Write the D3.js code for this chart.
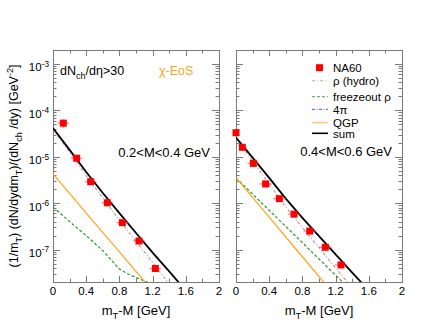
<!DOCTYPE html>
<html>
<head>
<meta charset="utf-8">
<script src="https://cdn.jsdelivr.net/npm/d3@7"></script>
<style>
body { margin: 0; background: #fff; }
text { font-family: "Liberation Sans", Arial, sans-serif; fill: #000; }
</style>
</head>
<body>
<svg id="chart" width="430" height="332"></svg>
<script>
// ---- data: 0.2 < M < 0.4 GeV ----
const na60X_low = [0.124, 0.285, 0.454, 0.654, 0.835, 1.036, 1.233];
const na60Y_low = [5.3e-5, 9.3e-6, 2.9e-6, 1.02e-6, 3.8e-7, 1.53e-7, 3.9e-8];
const na60Ey_low = [1.1e-5, 1.0e-6, 3.0e-7, 1.0e-7, 4.0e-8, 1.6e-8, 4.0e-9];
const na60Ex_low = [0.07, 0.07, 0.07, 0.07, 0.07, 0.07, 0.07];

const sumX_low = [0, 0.2, 0.4, 0.6, 0.8, 1.0, 1.2, 1.4, 1.6];
const sumY_low = [4.17e-5, 1.41e-5, 4.7e-6, 1.66e-6, 6.1e-7, 2.28e-7, 8.6e-8, 3.4e-8, 1.3e-8];
const hydroX_low = [0, 0.2, 0.4, 0.6, 0.8, 1.0, 1.2, 1.4];
const hydroY_low = [3.9e-5, 1.25e-5, 3.9e-6, 1.3e-6, 4.3e-7, 1.5e-7, 5.3e-8, 1.8e-8];
const freezeX_low = [0, 0.2, 0.4, 0.6, 0.8, 0.9, 1.0, 1.1, 1.2];
const freezeY_low = [8.3e-7, 4.0e-7, 2.0e-7, 9.5e-8, 3.8e-8, 3.0e-8, 2.5e-8, 2.1e-8, 1.8e-8];
const qgpX_low = [0, 0.4, 0.8, 1.2];
const qgpY_low = [4.3e-6, 6.1e-7, 8.9e-8, 1.28e-8];

// ---- data: 0.4 < M < 0.6 GeV ----
const na60X_high = [0.0, 0.076, 0.208, 0.357, 0.522, 0.699, 0.888, 1.076, 1.265];
const na60Y_high = [3.3e-5, 1.6e-5, 7.2e-6, 2.6e-6, 1.25e-6, 5.8e-7, 2.5e-7, 1.12e-7, 4.65e-8];
const na60Ey_high = [6.0e-6, 2.5e-6, 8.0e-7, 2.6e-7, 1.2e-7, 5.5e-8, 2.4e-8, 1.1e-8, 4.5e-9];
const na60Ex_high = [0.03, 0.04, 0.07, 0.075, 0.075, 0.075, 0.075, 0.075, 0.075];

const sumX_high = [0, 0.2, 0.4, 0.6, 0.8, 1.0, 1.2, 1.4, 1.6];
const sumY_high = [2.6e-5, 9.6e-6, 3.5e-6, 1.25e-6, 4.8e-7, 1.94e-7, 7.9e-8, 3.2e-8, 1.3e-8];
const hydroX_high = [0, 0.2, 0.4, 0.6, 0.8, 1.0, 1.2, 1.4];
const hydroY_high = [2.5e-5, 8.1e-6, 2.6e-6, 8.3e-7, 3.0e-7, 1.1e-7, 4.0e-8, 1.5e-8];
const freezeX_high = [0, 0.4, 0.8, 1.2, 1.4];
const freezeY_high = [3.5e-6, 7.0e-7, 1.41e-7, 2.8e-8, 1.24e-8];
const qgpX_high = [0, 0.4, 0.8, 1.2];
const qgpY_high = [3.5e-6, 5.0e-7, 7.0e-8, 9.8e-9];

// ---- axes ----
const xTicks = [0, 0.4, 0.8, 1.2, 1.6, 2];
const xTickLabels = ["0", "0.4", "0.8", "1.2", "1.6", "2"];
const yDecades = [1e-7, 1e-6, 1e-5, 1e-4, 1e-3];
const yExponents = ["-7", "-6", "-5", "-4", "-3"];

const legendLabels = ["NA60", "\u03c1 (hydro)", "freezeout \u03c1", "4\u03c0", "QGP", "sum"];

const svg = d3.select("#chart");
svg.append("rect").attr("width", 430).attr("height", 332).attr("fill", "#fff");

const plotTop = 50, plotBottom = 282;
const frameColor = "#7a7a7a";

const styles = {
    hydro: { color: "#c99a9a", dash: "3,2,1,2", width: 1.2 },
    freeze: { color: "#2a9a2a", dash: "3,2", width: 1.2 },
    fourpi: { color: "#3333cc", dash: "3,1.5,1,1.5", width: 1.2 },
    qgp: { color: "#ffa31a", dash: null, width: 1.2 },
    sum: { color: "#000", dash: null, width: 1.8 }
};

// text with sub/superscripts; parts = [[string, "n"|"sub"|"sup"], ...]
function richText(sel, parts, size) {
    let shift = 0;
    parts.forEach(p => {
        let target = p[1] === "sub" ? size * 0.3 : p[1] === "sup" ? -size * 0.4 : 0;
        let t = sel.append("tspan").text(p[0]).attr("dy", target - shift);
        if (p[1] !== "n") t.attr("font-size", size * 0.72);
        shift = target;
    });
}

function drawPanel(left, right, data, idx) {
    const x = d3.scaleLinear().domain([0, 2]).range([left, right]);
    const y = d3.scaleLog().domain([2e-8, 2e-3]).range([plotBottom, plotTop]);
    const g = svg.append("g");

    const clipId = "clip" + idx;
    svg.append("clipPath").attr("id", clipId)
        .append("rect").attr("x", left).attr("y", plotTop)
        .attr("width", right - left).attr("height", plotBottom - plotTop);

    // ticks (inward)
    const tk = g.append("g").attr("stroke", frameColor).attr("stroke-width", 1);
    d3.range(0, 2.001, 0.2).forEach((v, i) => {
        const len = i % 2 === 0 ? 6 : 3.5;
        const px = Math.round(x(v)) + 0.5;
        tk.append("line").attr("x1", px).attr("x2", px).attr("y1", plotBottom).attr("y2", plotBottom - len);
        tk.append("line").attr("x1", px).attr("x2", px).attr("y1", plotTop).attr("y2", plotTop + len);
    });
    y.ticks(40).forEach(v => {
        const mant = Math.round(v / Math.pow(10, Math.floor(Math.log10(v) + 1e-9)));
        const len = mant === 1 ? 7 : 3.5;
        const py = Math.round(y(v)) + 0.5;
        tk.append("line").attr("x1", left).attr("x2", left + len).attr("y1", py).attr("y2", py);
        tk.append("line").attr("x1", right).attr("x2", right - len).attr("y1", py).attr("y2", py);
    });

    // frame
    g.append("rect").attr("x", left + 0.5).attr("y", plotTop + 0.5)
        .attr("width", right - left).attr("height", plotBottom - plotTop)
        .attr("fill", "none").attr("stroke", frameColor).attr("stroke-width", 1);

    // x tick labels
    g.selectAll(".xl").data(xTicks).enter().append("text")
        .attr("x", d => x(d)).attr("y", 295)
        .attr("text-anchor", "middle").attr("font-size", 11.5)
        .text((d, i) => xTickLabels[i]);

    // x title
    const xt = g.append("text").attr("x", (left + right) / 2).attr("y", 315)
        .attr("text-anchor", "middle").attr("font-size", 13);
    richText(xt, [["m", "n"], ["T", "sub"], ["-M [GeV]", "n"]], 13);

    // curves
    const line = d3.line().x(d => x(d[0])).y(d => y(d[1]));
    const curves = g.append("g").attr("clip-path", `url(#${clipId})`);
    [["hydro", data.hydroX, data.hydroY], ["freeze", data.freezeX, data.freezeY],
     ["qgp", data.qgpX, data.qgpY], ["sum", data.sumX, data.sumY]].forEach(c => {
        const s = styles[c[0]];
        curves.append("path")
            .attr("d", line(c[1].map((v, i) => [v, c[2][i]])))
            .attr("fill", "none").attr("stroke", s.color)
            .attr("stroke-width", s.width)
            .attr("stroke-dasharray", s.dash);
    });

    // NA60 points
    const pts = data.ptX.map((v, i) => ({ x: v, y: data.ptY[i], ex: data.ptEx[i], ey: data.ptEy[i] }));
    const pg = g.append("g");
    pg.selectAll(".eh").data(pts).enter().append("line")
        .attr("x1", d => x(Math.max(0, d.x - d.ex))).attr("x2", d => x(d.x + d.ex))
        .attr("y1", d => y(d.y)).attr("y2", d => y(d.y))
        .attr("stroke", "#ff5050").attr("stroke-opacity", 0.7).attr("stroke-width", 1.3);
    pg.selectAll(".ev").data(pts).enter().append("line")
        .attr("x1", d => x(d.x)).attr("x2", d => x(d.x))
        .attr("y1", d => y(d.y + d.ey)).attr("y2", d => y(d.y - d.ey))
        .attr("stroke", "#ff5050").attr("stroke-opacity", 0.7).attr("stroke-width", 1.3);
    pg.selectAll(".pt").data(pts).enter().append("rect")
        .attr("x", d => x(d.x) - 3.5).attr("y", d => y(d.y) - 3.5)
        .attr("width", 7).attr("height", 7).attr("fill", "#ff0000");

    return { x, y, g };
}

const pL = drawPanel(53, 219, {
    ptX: na60X_low, ptY: na60Y_low, ptEx: na60Ex_low, ptEy: na60Ey_low,
    sumX: sumX_low, sumY: sumY_low, hydroX: hydroX_low, hydroY: hydroY_low,
    freezeX: freezeX_low, freezeY: freezeY_low, qgpX: qgpX_low, qgpY: qgpY_low
}, 0);
const pR = drawPanel(236, 402, {
    ptX: na60X_high, ptY: na60Y_high, ptEx: na60Ex_high, ptEy: na60Ey_high,
    sumX: sumX_high, sumY: sumY_high, hydroX: hydroX_high, hydroY: hydroY_high,
    freezeX: freezeX_high, freezeY: freezeY_high, qgpX: qgpX_high, qgpY: qgpY_high
}, 1);

// y tick labels, left panel only
yDecades.forEach((v, i) => {
    const t = svg.append("text").attr("x", 49).attr("y", pL.y(v) + 7.5)
        .attr("text-anchor", "end").attr("font-size", 11.5);
    richText(t, [["10", "n"], [yExponents[i], "sup"]], 11.5);
});

// y title
const yt = svg.append("text").attr("transform", "translate(18,166) rotate(-90)")
    .attr("text-anchor", "middle").attr("font-size", 12.5);
richText(yt, [["(1/m", "n"], ["T", "sub"], [") (dN/dydm", "n"], ["T", "sub"],
    [")/(dN", "n"], ["ch", "sub"], [" /dy) [GeV", "n"], ["-2", "sup"], ["]", "n"]], 12.5);

// panel annotations
const ann = svg.append("text").attr("x", 60).attr("y", 75).attr("font-size", 12.5);
richText(ann, [["dN", "n"], ["ch", "sub"], ["/d\u03b7>30", "n"]], 12.5);
svg.append("text").attr("x", 159).attr("y", 75).attr("font-size", 12.5)
    .style("fill", "#ffa31a").text("\u03c7-EoS");
svg.append("text").attr("x", 210).attr("y", 157).attr("text-anchor", "end")
    .attr("font-size", 13).text("0.2<M<0.4 GeV");
svg.append("text").attr("x", 392).attr("y", 156).attr("text-anchor", "end")
    .attr("font-size", 13).text("0.4<M<0.6 GeV");

// legend
const legY = [67.7, 80.7, 96.7, 109.3, 122.7, 133.3];
const legKeys = ["pt", "hydro", "freeze", "fourpi", "qgp", "sum"];
const leg = svg.append("g");
legendLabels.forEach((lab, i) => {
    const key = legKeys[i];
    if (key === "pt") {
        leg.append("rect").attr("x", 316).attr("y", legY[i] - 3.5)
            .attr("width", 7).attr("height", 7).attr("fill", "#ff0000");
    } else {
        const s = styles[key];
        leg.append("line").attr("x1", 312).attr("x2", 328)
            .attr("y1", legY[i]).attr("y2", legY[i])
            .attr("stroke", s.color).attr("stroke-width", key === "sum" ? 1.6 : 1.2)
            .attr("stroke-opacity", key === "sum" ? 1 : 0.7)
            .attr("stroke-dasharray", s.dash);
    }
    leg.append("text").attr("x", 333).attr("y", legY[i] + 4.2)
        .attr("font-size", 11.5).text(lab);
});
</script>
</body>
</html>
